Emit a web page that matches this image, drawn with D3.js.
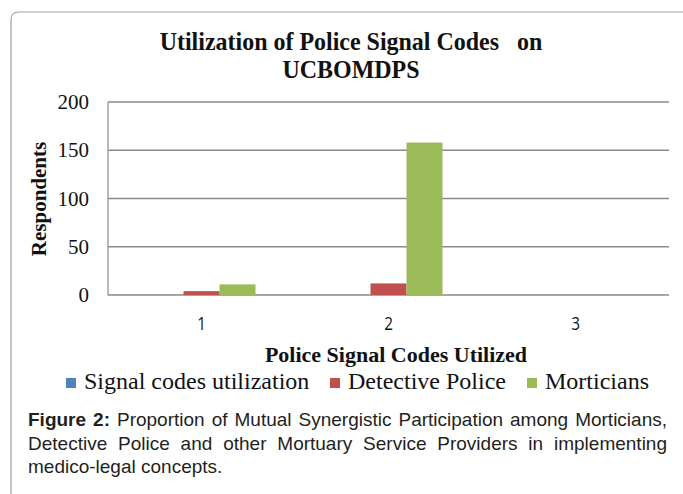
<!DOCTYPE html>
<html>
<head>
<meta charset="utf-8">
<script src="https://cdn.jsdelivr.net/npm/d3@7"></script>
<style>
  body { margin: 0; background: #fff; }
  #wrap { position: relative; width: 683px; height: 494px; overflow: hidden; }
  #caption {
    position: absolute; left: 28px; top: 408px; width: 639px;
    font-family: "Liberation Sans", Arial, sans-serif; font-size: 19px;
    line-height: 23.5px; color: #231f20;
  }
  #caption div { text-align: justify; text-align-last: justify; }
  #caption div.last { text-align-last: left; }
</style>
</head>
<body>
<div id="wrap">
  <div id="chart"></div>
  <div id="caption">
    <div><b>Figure 2:</b> Proportion of Mutual Synergistic Participation among Morticians,</div>
    <div>Detective Police and other Mortuary Service Providers in implementing</div>
    <div class="last">medico-legal concepts.</div>
  </div>
</div>
<script>
const categories = ["1", "2", "3"];
const seriesNames = ["Signal codes utilization", "Detective Police", "Morticians"];
const signalCodes = [0, 0, 0];
const detectivePolice = [4, 12, 0];
const morticians = [11, 158, 0];
const yTicks = [0, 50, 100, 150, 200];
const colors = ["#4F81BD", "#C0504D", "#9BBB59"];

const seriesValues = [signalCodes, detectivePolice, morticians];
const width = 683, height = 494;
const plot = { left: 108, right: 669, top: 102, bottom: 295 };
const serif = "'Liberation Serif', 'Times New Roman', serif";

const svg = d3.select("#chart").append("svg")
  .attr("width", width)
  .attr("height", height)
  .style("position", "absolute")
  .style("left", 0).style("top", 0);

function label(x, y, txt, size, opts = {}) {
  const sx = opts.sx || 1;
  const t = svg.append("text")
    .attr("transform", `translate(${x},${y}) ${opts.rotate ? "rotate(" + opts.rotate + ")" : ""} scale(${sx},1)`)
    .attr("text-anchor", opts.anchor || "middle")
    .attr("font-family", opts.family || serif)
    .attr("font-weight", opts.bold ? "bold" : "normal")
    .attr("font-size", size)
    .attr("fill", "#111")
    .text(txt);
  if (opts.pre) t.style("white-space", "pre");
  return t;
}

// outer frame with rounded corner
svg.append("path")
  .attr("d", "M11,494 L11,20 Q11,12 19,12 L683,12")
  .attr("fill", "none")
  .attr("stroke", "#a0a0a0")
  .attr("stroke-width", 1.2);

// title
label(351, 50, "Utilization of Police Signal Codes   on", 25.5, { bold: true, pre: true, sx: 0.94 });
label(351, 78, "UCBOMDPS", 25.5, { bold: true, sx: 0.94 });

const x0 = d3.scaleBand().domain(categories).range([plot.left, plot.right]);
const x1 = d3.scaleBand().domain(seriesNames).range([0, x0.bandwidth()]).paddingInner(0).paddingOuter(79 / 108 * 1.5);
const y = d3.scaleLinear().domain([0, 200]).range([plot.bottom, plot.top]);

// gridlines
svg.append("g").selectAll("line")
  .data(yTicks)
  .join("line")
  .attr("x1", plot.left).attr("x2", plot.right)
  .attr("y1", d => y(d)).attr("y2", d => y(d))
  .attr("stroke", "#8a8a8a")
  .attr("stroke-width", 1.3);

svg.append("line")
  .attr("x1", plot.left).attr("x2", plot.left)
  .attr("y1", y(200)).attr("y2", y(0))
  .attr("stroke", "#8a8a8a")
  .attr("stroke-width", 1.2);

// y tick labels
yTicks.forEach(d => label(89, y(d) + 7, d, 21, { anchor: "end" }));

// bars
const groups = svg.append("g").selectAll("g")
  .data(categories)
  .join("g")
  .attr("transform", d => `translate(${x0(d)},0)`);

groups.selectAll("rect")
  .data((d, i) => seriesNames.map((s, j) => ({ s, v: seriesValues[j][i], c: colors[j] })))
  .join("rect")
  .attr("x", d => x1(d.s))
  .attr("width", x1.bandwidth())
  .attr("y", d => y(d.v))
  .attr("height", d => y(0) - y(d.v))
  .attr("fill", d => d.c);

// x tick labels
categories.forEach(d => label(x0(d) + x0.bandwidth() / 2, 330, d, 18, { sx: 0.85,
  family: "'Open Sans', 'DejaVu Sans', sans-serif" }));

// axis titles
label(396, 362, "Police Signal Codes Utilized", 22, { bold: true });
label(46, 199, "Respondents", 21, { bold: true, rotate: -90 });

// legend
const legendX = [66, 330, 527];
const legend = svg.append("g").selectAll("g")
  .data(seriesNames)
  .join("g")
  .attr("transform", (d, i) => `translate(${legendX[i]},378)`);
legend.append("rect")
  .attr("width", 10).attr("height", 10)
  .attr("fill", (d, i) => colors[i]);
legend.append("text")
  .attr("x", 18).attr("y", 11)
  .attr("font-family", serif)
  .attr("font-size", 24)
  .attr("fill", "#111")
  .text(d => d);
</script>
</body>
</html>
